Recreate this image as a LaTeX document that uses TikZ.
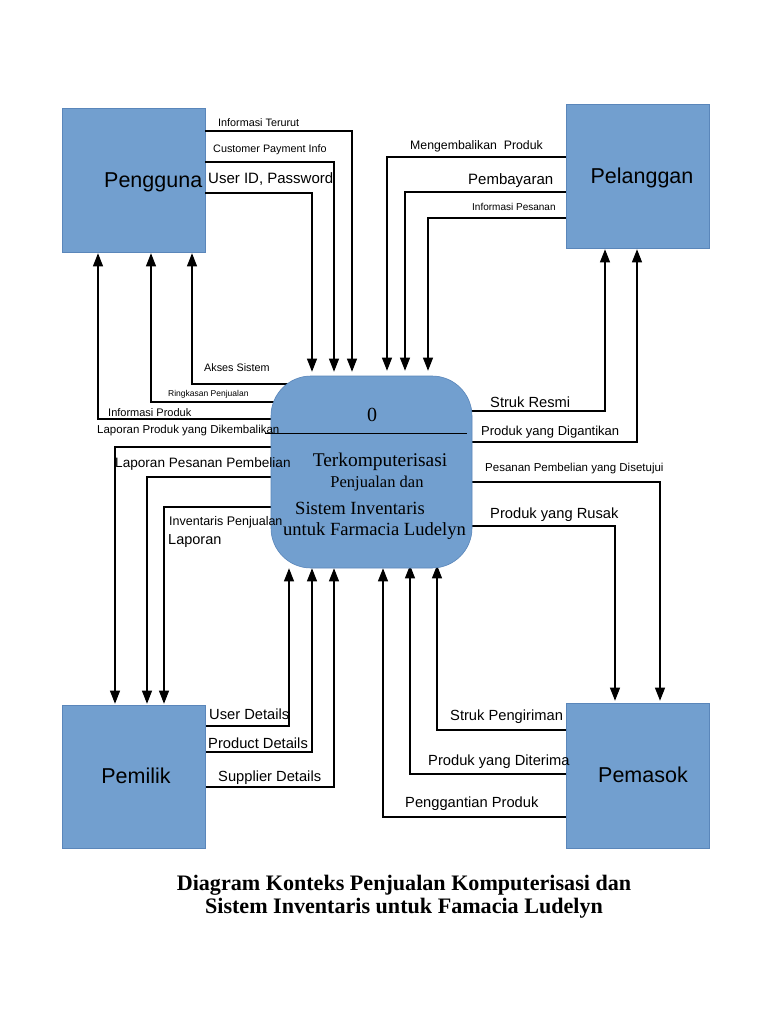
\documentclass[tikz,border=0pt]{standalone}
\usepackage{fontspec}
\setmainfont{Liberation Sans}
\newfontfamily\serifTNR{Liberation Serif}
\usetikzlibrary{arrows.meta}
\pgfdeclarelayer{paper}
\pgfdeclarelayer{bg}
\pgfsetlayers{paper,bg,main}
\definecolor{boxfill}{HTML}{729FCF}
\definecolor{boxline}{HTML}{5A86BA}
\newcommand{\fs}[1]{\fontsize{#1}{#1}\selectfont}
\begin{document}
\begin{tikzpicture}[x=1pt,y=-1pt,
  ext/.style={draw=boxline, line width=0.6pt, fill=boxfill, minimum width=143pt, minimum height=144pt, inner sep=0pt},
  proc/.style={draw=boxline, line width=0.6pt, fill=boxfill, minimum width=201pt, minimum height=192pt, rounded corners=40pt, inner sep=0pt},
  flow/.style={line width=1.1pt, -{Triangle[length=13pt,width=10pt]}},
  lbl/.style={anchor=west, inner sep=0pt},
  big/.style={lbl, font=\fs{14.7}},
  boxtext/.style={inner sep=0pt, font=\fs{21.5}},
  ptext/.style={inner sep=0pt, font=\serifTNR\fs{#1}},
]
\begin{pgfonlayer}{paper}
\fill[white] (0,0) rectangle (768,1024);
\end{pgfonlayer}
\useasboundingbox (0,0) rectangle (768,1024);

% entities
\node[ext] (peng) at (133.5,180) {};
\node[ext] (pel) at (637.5,176) {};
\node[ext, minimum height=143pt] (pmk) at (133.5,776.5) {};
\node[ext, minimum height=145pt] (pem) at (637.5,775.5) {};
\node[proc] (proc) at (371.5,472) {};

\node[boxtext, anchor=west] (pengT) at (104,182) {Pengguna};
\node[boxtext] (pelT) at (642,178) {Pelanggan};
\node[boxtext] (pmkT) at (136,776) {Pemilik};
\node[boxtext] (pemT) at (643,775) {Pemasok};

% process text
\draw[line width=0.9pt] (265,433) -- (467,433);
\node[ptext=20] (p0) at (372,415) {0};
\node[ptext=19.4] (p1) at (380,462) {Terkomputerisasi};
\node[ptext=16.5] (p2) at (377,484) {Penjualan dan};
\node[ptext=18.6] (p3) at (360,508) {Sistem Inventaris};
\node[ptext=18.6] (p4) at (374.5,531) {untuk Farmacia Ludelyn};

% flows from Pengguna / Pelanggan into process
\draw[flow, shorten >=4pt] (peng.east|-0,131) -| (proc.north-|352,0);
\draw[flow, shorten >=4pt] (peng.east|-0,162) -| (proc.north-|334,0);
\draw[flow, shorten >=4pt] (peng.east|-0,193) -| (proc.north-|312,0);
\draw[flow, shorten >=5pt] (pel.west|-0,157) -| (proc.north-|387,0);
\draw[flow, shorten >=5pt] (pel.west|-0,192) -| (proc.north-|405,0);
\draw[flow, shorten >=5pt] (pel.west|-0,218) -| (proc.north-|428,0);

% flows from process (behind the process box)
\begin{pgfonlayer}{bg}
\draw[flow, shorten >=1pt] (proc.center|-0,384) -| (peng.south-|192,0);
\draw[flow, shorten >=1pt] (proc.center|-0,402) -| (peng.south-|151,0);
\draw[flow, shorten >=1pt] (proc.center|-0,419) -| (peng.south-|98,0);
\draw[flow, shorten >=1pt] (proc.center|-0,447) -| (pmk.north-|115,0);
\draw[flow, shorten >=1pt] (proc.center|-0,477) -| (pmk.north-|147,0);
\draw[flow, shorten >=1pt] (proc.center|-0,507) -| (pmk.north-|164,0);
\draw[flow, shorten >=1pt] (proc.center|-0,411) -| (pel.south-|605,0);
\draw[flow, shorten >=1pt] (proc.center|-0,442) -| (pel.south-|637,0);
\draw[flow, shorten >=2pt] (proc.center|-0,482) -| (pem.north-|660,0);
\draw[flow, shorten >=2pt] (proc.center|-0,526) -| (pem.north-|615,0);
% flows from Pemilik / Pemasok into process
\draw[flow] (pmk.east|-0,726) -| (proc.south-|289,0);
\draw[flow] (pmk.east|-0,752) -| (proc.south-|312,0);
\draw[flow] (pmk.east|-0,787) -| (proc.south-|334,0);
\draw[flow, shorten >=-3pt] (pem.west|-0,730) -| (proc.south-|437,0);
\draw[flow, shorten >=-3pt] (pem.west|-0,774) -| (proc.south-|410,0);
\draw[flow] ([xshift=4pt]pem.west|-0,817) -| (proc.south-|383,0);
\end{pgfonlayer}

% labels
\node[lbl, font=\fs{10.8}] (l1) at (218,123) {Informasi Terurut};
\node[lbl, font=\fs{10.8}] (l2) at (213,150) {Customer Payment Info};
\node[lbl, font=\fs{15}] (l3) at (208,179) {User ID, Password};
\node[lbl, font=\fs{12.3}] (l4) at (410,146) {Mengembalikan\ \ Produk};
\node[lbl, font=\fs{15}] (l5) at (468,181) {Pembayaran};
\node[lbl, font=\fs{10}] (l6) at (472,207) {Informasi Pesanan};
\node[lbl, font=\fs{10.8}] (l7) at (204,368) {Akses Sistem};
\node[lbl, font=\fs{8.5}] (l8) at (168,394) {Ringkasan Penjualan};
\node[lbl, font=\fs{11}] (l9) at (108,413) {Informasi Produk};
\node[lbl, font=\fs{11.5}] (l10) at (97,431) {Laporan Produk yang Dikembalikan};
\node[lbl, font=\fs{13.6}] (l11) at (115,464) {Laporan Pesanan Pembelian};
\node[lbl, font=\fs{12.5}] (l12) at (169,522) {Inventaris Penjualan};
\node[lbl, font=\fs{14.5}] (l13) at (168,541) {Laporan};
\node[big] (l14) at (490,402) {Struk Resmi};
\node[lbl, font=\fs{13}] (l15) at (481,432) {Produk yang Digantikan};
\node[lbl, font=\fs{11.5}] (l16) at (485,469) {Pesanan Pembelian yang Disetujui};
\node[big] (l17) at (490,515) {Produk yang Rusak};
\node[big] (l18) at (209,714) {User Details};
\node[big] (l19) at (208,743) {Product Details};
\node[big] (l20) at (218,778) {Supplier Details};
\node[big] (l21) at (450,717) {Struk Pengiriman};
\node[big] (l22) at (428,762) {Produk yang Diterima};
\node[big] (l23) at (405,804) {Penggantian Produk};

% title
\node[align=center, inner sep=0pt, font=\serifTNR\bfseries\fontsize{22.1}{23}\selectfont] (title) at (404,897)
  {Diagram Konteks Penjualan Komputerisasi dan\\Sistem Inventaris untuk Famacia Ludelyn};
\end{tikzpicture}
\end{document}
